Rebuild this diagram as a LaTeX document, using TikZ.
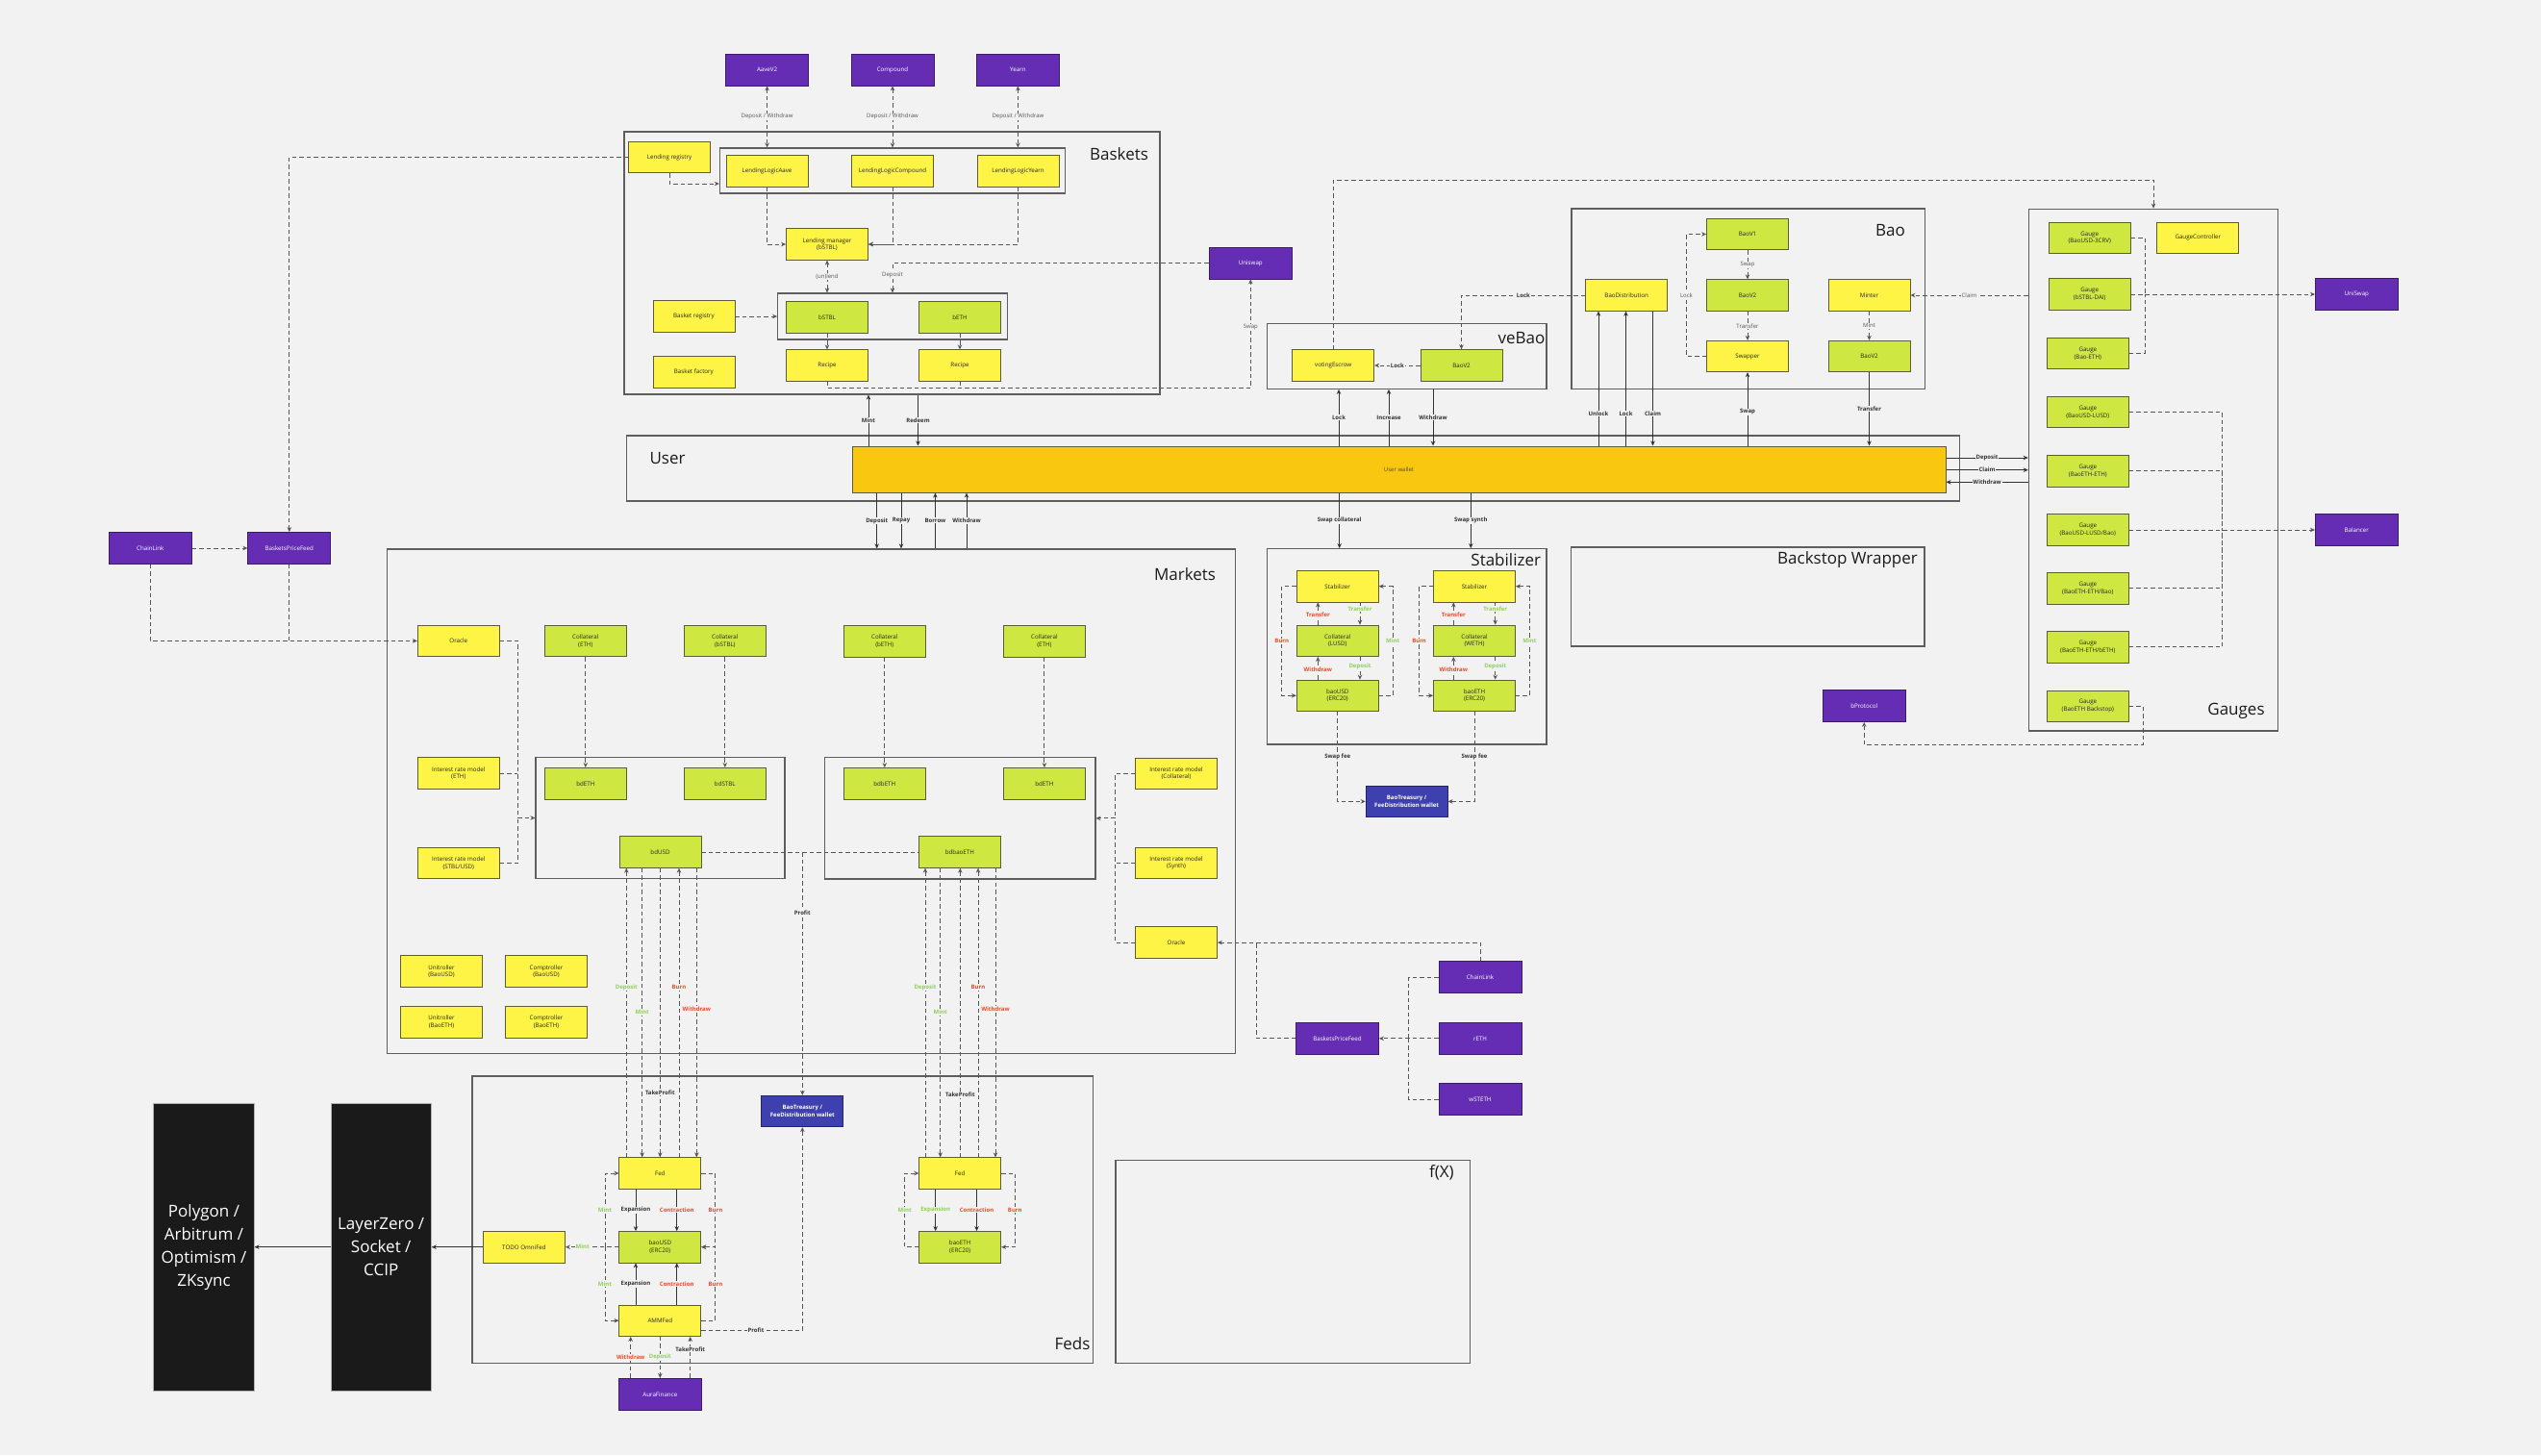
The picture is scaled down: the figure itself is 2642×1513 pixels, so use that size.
\documentclass[tikz,border=0pt]{standalone}
\usepackage{fontspec}
\setmainfont{Open Sans}
\usetikzlibrary{arrows.meta,fit,calc}
\definecolor{bgc}{HTML}{F2F2F2}
\definecolor{ylw}{HTML}{FEF445}
\definecolor{lime}{HTML}{CEE741}
\definecolor{purp}{HTML}{652DB4}
\definecolor{blu}{HTML}{3E40B0}
\definecolor{gold}{HTML}{FAC710}
\definecolor{brd}{HTML}{5C5C3D}
\definecolor{grpc}{HTML}{5E5E5E}
\definecolor{lnc}{HTML}{555555}
\definecolor{sln}{HTML}{333333}
\definecolor{grn}{HTML}{8FD14F}
\definecolor{rd}{HTML}{F24726}
\definecolor{blk}{HTML}{1A1A1A}
\tikzset{
 box/.style={draw=brd, line width=0.8pt, minimum width=85pt, minimum height=32.5pt, inner sep=1pt, align=center, font=\fontsize{6.2}{7.6}\selectfont, text=black!85},
 ybox/.style={box, fill=ylw},
 gbox/.style={box, fill=lime},
 pbox/.style={box, fill=purp, draw=purp!60!black, text=white, minimum width=86pt, minimum height=33pt},
 bbox/.style={box, fill=blu, draw=blu!60!black, text=white, font=\fontsize{6}{7.5}\selectfont\bfseries},
 blkbox/.style={fill=blk, draw=gray!60, line width=0.6pt, text=white, align=center, font=\fontsize{17}{24}\selectfont, minimum width=104.5pt, minimum height=299.5pt},
 grp/.style={draw=grpc, line width=1.2pt, inner sep=0pt},
 ttl/.style={font=\fontsize{17}{20}\selectfont, text=blk, inner sep=0pt},
 dl/.style={draw=lnc, line width=0.85pt, dash pattern=on 4.5pt off 3pt},
 sl/.style={draw=sln, line width=0.8pt},
 lbl/.style={fill=bgc, inner sep=0.8pt, font=\fontsize{6}{7}\selectfont\bfseries, text=sln},
 lbn/.style={lbl, font=\fontsize{6}{7}\selectfont, text=lnc},
 lbg/.style={lbl, text=grn},
 lbr/.style={lbl, text=rd},
 >={Stealth[length=5pt,width=4.5pt]},
}
\begin{document}
\begin{tikzpicture}[x=1pt,y=-1pt]
\fill[bgc] (0,0) rectangle (2642,1513);

% ---------------- group boxes ----------------
\node[grp, fit={(649,137)(1206,410)}] (baskG) {};
\node[grp, fit={(748.4,154)(1107.3,201)}] (lendG) {};
\node[grp, fit={(808.7,305)(1047.3,353)}] (baskiG) {};
\node[grp, fit={(1317.7,336.3)(1608,404.3)}] (vebaoG) {};
\node[grp, fit={(1634,217)(2001.4,404.3)}] (baoG) {};
\node[grp, fit={(651.8,453)(2037.6,521)}] (userG) {};
\node[grp, fit={(2109.3,217.2)(2368.7,760)}] (gaugesG) {};
\node[grp, fit={(1633.5,569)(2001,672)}] (bswG) {};
\node[grp, fit={(402.3,571)(1284.3,1095.8)}] (marketsG) {};
\node[grp, fit={(557,787.3)(816,913.7)}] (bd1G) {};
\node[grp, fit={(857.7,787.8)(1138.9,913.9)}] (bd2G) {};
\node[grp, fit={(1317.3,570.7)(1608,774)}] (stabG) {};
\node[grp, fit={(491,1119)(1136.7,1417.7)}] (fedsG) {};
\node[grp, fit={(1160,1206.7)(1528.6,1417.7)}] (fxG) {};

% titles
\node[ttl] (tBaskets) at (1163.5,160) {Baskets};
\node[ttl] (tVebao) at (1582,352) {veBao};
\node[ttl] (tBao) at (1965.5,240) {Bao};
\node[ttl] (tGauges) at (2325,739) {Gauges};
\node[ttl] (tUser) at (694,477) {User};
\node[ttl] (tMarkets) at (1232,597) {Markets};
\node[ttl] (tStab) at (1565.7,582.3) {Stabilizer};
\node[ttl] (tBsw) at (1921,582) {Backstop Wrapper};
\node[ttl] (tFeds) at (1115,1396.7) {Feds};
\node[ttl] (tFx) at (1498.8,1219) {f(X)};

% ---------------- Baskets ----------------
\node[pbox] (aave) at (797.6,72.5) {AaveV2};
\node[pbox] (compound) at (928,72.5) {Compound};
\node[pbox] (yearn) at (1058.4,72.5) {Yearn};
\node[ybox] (lendreg) at (696,163.5) {Lending registry};
\node[ybox] (llaave) at (797.5,178) {LendingLogicAave};
\node[ybox] (llcomp) at (928,178) {LendingLogicCompound};
\node[ybox] (llyearn) at (1058.5,178) {LendingLogicYearn};
\node[ybox] (lendmgr) at (860,254) {Lending manager\\(bSTBL)};
\node[gbox] (bstbl) at (860,330) {bSTBL};
\node[gbox] (beth) at (998,330) {bETH};
\node[ybox] (baskreg) at (721.4,329) {Basket registry};
\node[ybox] (baskfac) at (721.4,387) {Basket factory};
\node[ybox] (recipe1) at (860,380) {Recipe};
\node[ybox] (recipe2) at (998,380) {Recipe};
\node[pbox] (uniswap) at (1300.3,273.5) {Uniswap};

% ---------------- veBao / Bao ----------------
\node[ybox] (vesc) at (1386.2,380) {votingEscrow};
\node[gbox] (vebaov2) at (1519.5,380) {BaoV2};
\node[ybox] (baodist) at (1691.2,307) {BaoDistribution};
\node[gbox] (baov1) at (1817,243.5) {BaoV1};
\node[gbox] (baov2) at (1817,307) {BaoV2};
\node[ybox] (swapper) at (1817,370.5) {Swapper};
\node[ybox] (minter) at (1943.5,307) {Minter};
\node[gbox] (baov2m) at (1943.5,370.5) {BaoV2};

% ---------------- User ----------------
\node[draw=brd, line width=1pt, fill=gold, minimum width=1137pt, minimum height=48pt, font=\fontsize{6}{7}\selectfont, text=black!70] (wallet) at (1454.5,488) {User wallet};

% ---------------- Gauges ----------------
\node[gbox] (g1) at (2172.7,247.2) {Gauge\\(BaoUSD-3CRV)};
\node[ybox] (gc) at (2285.3,247.2) {GaugeController};
\node[gbox] (g2) at (2172.7,306) {Gauge\\(bSTBL-DAI)};
\node[gbox] (g3) at (2170.8,367.6) {Gauge\\(Bao-ETH)};
\node[gbox] (g4) at (2170.8,428.6) {Gauge\\(BaoUSD-LUSD)};
\node[gbox] (g5) at (2170.8,489.7) {Gauge\\(BaoETH-ETH)};
\node[gbox] (g6) at (2170.8,551) {Gauge\\(BaoUSD-LUSD/Bao)};
\node[gbox] (g7) at (2170.8,611.8) {Gauge\\(BaoETH-ETH/Bao)};
\node[gbox] (g8) at (2170.8,672.8) {Gauge\\(BaoETH-ETH/bETH)};
\node[gbox] (g9) at (2170.8,734.2) {Gauge\\(BaoETH Backstop)};
\node[pbox] (uniswap2) at (2450.3,306) {UniSwap};
\node[pbox] (balancer) at (2450.3,551) {Balancer};
\node[pbox] (bprotocol) at (1938.2,734) {bProtocol};

% ---------------- Markets ----------------
\node[pbox] (chainL) at (156.3,570) {ChainLink};
\node[pbox] (bpfL) at (300.8,570) {BasketsPriceFeed};
\node[ybox] (oracleL) at (476.8,666.4) {Oracle};
\node[gbox] (collETH) at (608.8,666.4) {Collateral\\(ETH)};
\node[gbox] (collbSTBL) at (753.8,666.4) {Collateral\\(bSTBL)};
\node[ybox] (irmETH) at (476.8,804) {Interest rate model\\(ETH)};
\node[ybox] (irmSTBL) at (476.8,897.5) {Interest rate model\\(STBL/USD)};
\node[gbox] (bdETH) at (608.8,814.7) {bdETH};
\node[gbox] (bdSTBL) at (753.8,814.7) {bdSTBL};
\node[gbox] (bdUSD) at (686.5,886) {bdUSD};
\node[ybox] (uniUSD) at (459,1010) {Unitroller\\(BaoUSD)};
\node[ybox] (compUSD) at (568,1010) {Comptroller\\(BaoUSD)};
\node[ybox] (uniETH) at (459,1062.8) {Unitroller\\(BaoETH)};
\node[ybox] (compETH) at (568,1062.8) {Comptroller\\(BaoETH)};
\node[gbox] (collbETH) at (919.8,666.8) {Collateral\\(bETH)};
\node[gbox] (collETH2) at (1085.9,666.8) {Collateral\\(ETH)};
\node[gbox] (bdbETH) at (919.8,814.8) {bdbETH};
\node[gbox] (bdETH2) at (1085.9,814.8) {bdETH};
\node[gbox] (bdbaoETH) at (997.9,886) {bdbaoETH};
\node[ybox] (irmColl) at (1223,804.2) {Interest rate model\\(Collateral)};
\node[ybox] (irmSynth) at (1223,897.5) {Interest rate model\\(Synth)};
\node[ybox] (oracleR) at (1223,980.1) {Oracle};
\node[pbox] (chainR) at (1539,1016) {ChainLink};
\node[pbox] (reth) at (1539,1079.8) {rETH};
\node[pbox] (wsteth) at (1539,1143) {wSTETH};
\node[pbox] (bpfR) at (1390.5,1079.8) {BasketsPriceFeed};

% ---------------- Stabilizer ----------------
\node[ybox] (stab1) at (1390.7,609.7) {Stabilizer};
\node[gbox] (collLUSD) at (1390.7,666.3) {Collateral\\(LUSD)};
\node[gbox] (baoUSDs) at (1390.7,723.3) {baoUSD\\(ERC20)};
\node[ybox] (stab2) at (1533,609.7) {Stabilizer};
\node[gbox] (collWETH) at (1533,666.3) {Collateral\\(WETH)};
\node[gbox] (baoETHs) at (1533,723.3) {baoETH\\(ERC20)};
\node[bbox] (treasS) at (1462.6,833.4) {BaoTreasury /\\FeeDistribution wallet};

% ---------------- Feds ----------------
\node[bbox] (treasF) at (834.3,1155.5) {BaoTreasury /\\FeeDistribution wallet};
\node[ybox] (fedU) at (686.3,1220) {Fed};
\node[gbox] (baoUSDf) at (686.3,1296.7) {baoUSD\\(ERC20)};
\node[ybox] (ammfed) at (686.3,1373.2) {AMMFed};
\node[ybox] (omnifed) at (545,1296.7) {TODO OmniFed};
\node[pbox] (aura) at (686.3,1449.8) {AuraFinance};
\node[ybox] (fedE) at (998.2,1220) {Fed};
\node[gbox] (baoETHf) at (998.2,1296.7) {baoETH\\(ERC20)};
\node[blkbox] (lz) at (396.2,1296.7) {LayerZero /\\Socket /\\CCIP};
\node[blkbox] (poly) at (212,1296.7) {Polygon /\\Arbitrum /\\Optimism /\\ZKsync};

% ================= connectors =================
% Baskets
\foreach \a in {aave,compound,yearn}
  \draw[dl,<->] (\a.south) -- (lendG.north -| \a.south) node[lbn,midway]{Deposit / Withdraw};
\draw[dl,->] (llaave.south) |- (lendmgr.west);
\draw[dl,->] (llcomp.south) |- (lendmgr.east);
\draw[dl,->] (llyearn.south) |- (lendmgr.east);
\draw[dl,->] (lendreg.south) |- ([yshift=-13.5pt]lendG.west);
\draw[dl,<->] (lendmgr.south) -- (baskiG.north -| lendmgr.south) node[lbn,midway]{(un)lend};
\draw[dl,->] (uniswap.west) -| (baskiG.north) node[lbn,pos=0.7]{Deposit};
\draw[dl,->] (baskreg.east) -- (baskiG.west |- baskreg.east);
\draw[dl,->] (bstbl.south) -- (recipe1.north);
\draw[dl,->] (beth.south) -- (recipe2.north);
\draw[dl,->] (recipe1.south) -- ++(0,7) -| (uniswap.south) node[lbn,pos=0.78]{Swap};
\draw[dl] (recipe2.south) -- ++(0,7);
\draw[dl,->] (lendreg.west) -| (bpfL.north);

% wallet top
\draw[sl,->] (wallet.north -| 903,0) -- (baskG.south -| 903,0) node[lbl,midway]{Mint};
\draw[sl,->] (baskG.south -| 954.5,0) -- (wallet.north -| 954.5,0) node[lbl,midway]{Redeem};
\draw[sl,->] (wallet.north -| 1392,0) -- (vebaoG.south -| 1392,0) node[lbl,midway]{Lock};
\draw[sl,->] (wallet.north -| 1444,0) -- (vebaoG.south -| 1444,0) node[lbl,midway]{Increase};
\draw[sl,->] (vebaoG.south -| 1490,0) -- (wallet.north -| 1490,0) node[lbl,midway]{Withdraw};
\draw[sl,->] (wallet.north -| 1662,0) -- (baodist.south -| 1662,0) node[lbl,pos=0.24]{Unlock};
\draw[sl,->] (wallet.north -| 1690.5,0) -- (baodist.south -| 1690.5,0) node[lbl,pos=0.24]{Lock};
\draw[sl,->] (baodist.south -| 1718.5,0) -- (wallet.north -| 1718.5,0) node[lbl,pos=0.76]{Claim};
\draw[sl,->] (wallet.north -| swapper.south) -- (swapper.south) node[lbl,pos=0.46]{Swap};
\draw[sl,->] (baov2m.south) -- (wallet.north -| baov2m.south) node[lbl,midway]{Transfer};
% wallet right
\draw[sl,->] (wallet.east |- 0,476) -- (gaugesG.west |- 0,476) node[lbl,midway]{Deposit};
\draw[sl,->] (wallet.east |- 0,488.7) -- (gaugesG.west |- 0,488.7) node[lbl,midway]{Claim};
\draw[sl,<-] (wallet.east |- 0,501.3) -- (gaugesG.west |- 0,501.3) node[lbl,midway]{Withdraw};
% wallet bottom
\draw[sl,->] (wallet.south -| 911.7,0) -- (marketsG.north -| 911.7,0) node[lbl,midway]{Deposit};
\draw[sl,->] (wallet.south -| 937,0) -- (marketsG.north -| 937,0) node[lbl,midway]{Repay};
\draw[sl,->] (marketsG.north -| 972.4,0) -- (wallet.south -| 972.4,0) node[lbl,midway]{Borrow};
\draw[sl,->] (marketsG.north -| 1005,0) -- (wallet.south -| 1005,0) node[lbl,midway]{Withdraw};
\draw[sl,->] (wallet.south -| 1392.7,0) -- (stabG.north -| 1392.7,0) node[lbl,midway]{Swap collateral};
\draw[sl,->] (wallet.south -| 1529.3,0) -- (stabG.north -| 1529.3,0) node[lbl,midway]{Swap synth};

% veBao / Bao
\draw[dl,->] (vebaov2.west) -- (vesc.east) node[lbl,midway]{Lock};
\draw[dl,->] (baodist.west) -| (vebaov2.north) node[lbl,pos=0.25]{Lock};
\coordinate (gtop) at (2239,187.3);
\draw[dl,->] (vesc.north) |- (gtop) -- (gaugesG.north);
\draw[dl,->] (baov1.south) -- (baov2.north) node[lbn,midway]{Swap};
\draw[dl,->] (baov2.south) -- (swapper.north) node[lbn,midway]{Transfer};
\draw[dl,->] (swapper.west) -- ++(-20.7,0) |- (baov1.west) node[lbn,pos=0.25]{Lock};
\draw[dl,->] (minter.south) -- (baov2m.north) node[lbn,midway]{Mint};
\draw[dl,->] (gaugesG.west |- minter.east) -- (minter.east) node[lbn,midway]{Claim};

% Gauges
\draw[dl] (g1.east) -| (2230,306);
\draw[dl] (g3.east) -| (2230,306);
\draw[dl,->] (g2.east) -- (uniswap2.west);
\foreach \g in {g4,g5,g7,g8} \draw[dl] (\g.east) -| (2310.7,551);
\draw[dl,->] (g6.east) -- (balancer.west);
\coordinate (bpc) at (1938.2,774.5);
\draw[dl,->] (g9.east) -- ++(14.5,0) |- (bpc) -- (bprotocol.south);

% Markets left
\draw[dl,->] (chainL.east) -- (bpfL.west);
\draw[dl,->] (chainL.south) |- (oracleL.west);
\draw[dl] (bpfL.south) -- (bpfL.south |- oracleL.west);
\coordinate (t1) at (538.3,850.5);
\draw[dl] (oracleL.east) -| (t1);
\draw[dl] (irmSTBL.east) -| (t1);
\draw[dl] (irmETH.east) -- (irmETH.east -| t1);
\draw[dl,->] (t1) -- (bd1G.west);
\draw[dl,->] (collETH.south) -- (bdETH.north);
\draw[dl,->] (collbSTBL.south) -- (bdSTBL.north);
\draw[dl,->] (collbETH.south) -- (bdbETH.north);
\draw[dl,->] (collETH2.south) -- (bdETH2.north);
% Markets right
\coordinate (t2) at (1159.5,850.85);
\draw[dl] (irmColl.west) -| (t2);
\draw[dl] (oracleR.west) -| (t2);
\draw[dl] (irmSynth.west) -- (irmSynth.west -| t2);
\draw[dl,->] (t2) -- (bd2G.east);
\draw[dl,->] (chainR.north) |- (oracleR.east);
\draw[dl] (bpfR.west) -| (1306.3,980.1);
\coordinate (t3) at (1464.6,1079.8);
\draw[dl] (chainR.west) -| (t3);
\draw[dl] (wsteth.west) -| (t3);
\draw[dl,->] (reth.west) -- (bpfR.east);
% profit
\draw[dl] (bdUSD.east) -- (bdbaoETH.west);
\draw[dl,->] (bdUSD.east -| treasF.north) -- (treasF.north) node[lbl,pos=0.25]{Profit};
% bdUSD <-> Fed
\draw[dl,->] (fedU.north -| 651.3,0) -- (bdUSD.south -| 651.3,0) node[lbg,pos=0.588]{Deposit};
\draw[dl,->] (bdUSD.south -| 667.7,0) -- (fedU.north -| 667.7,0) node[lbg,pos=0.498]{Mint};
\draw[dl,->] (bdUSD.south -| 686.3,0) -- (fedU.north -| 686.3,0) node[lbl,pos=0.776]{TakeProfit};
\draw[dl,->] (fedU.north -| 706,0) -- (bdUSD.south -| 706,0) node[lbr,pos=0.588]{Burn};
\draw[dl,->] (bdUSD.south -| 724.3,0) -- (fedU.north -| 724.3,0) node[lbr,pos=0.488]{Withdraw};
% bdbaoETH <-> Fed
\draw[dl,->] (fedE.north -| 962,0) -- (bdbaoETH.south -| 962,0) node[lbg,pos=0.588]{Deposit};
\draw[dl,->] (bdbaoETH.south -| 977.7,0) -- (fedE.north -| 977.7,0) node[lbg,pos=0.498]{Mint};
\draw[dl,->] (fedE.north -| 998.3,0) -- (bdbaoETH.south -| 998.3,0) node[lbl,pos=0.216]{TakeProfit};
\draw[dl,->] (fedE.north -| 1017,0) -- (bdbaoETH.south -| 1017,0) node[lbr,pos=0.588]{Burn};
\draw[dl,->] (bdbaoETH.south -| 1035,0) -- (fedE.north -| 1035,0) node[lbr,pos=0.488]{Withdraw};

% Stabilizer
\draw[dl,->] (collLUSD.north -| 1370.3,0) -- (stab1.south -| 1370.3,0) node[lbr,pos=0.45]{Transfer};
\draw[dl,->] (stab1.south -| 1414,0) -- (collLUSD.north -| 1414,0) node[lbg,pos=0.3]{Transfer};
\draw[dl,->] (baoUSDs.north -| 1370.3,0) -- (collLUSD.south -| 1370.3,0) node[lbr,pos=0.45]{Withdraw};
\draw[dl,->] (collLUSD.south -| 1414,0) -- (baoUSDs.north -| 1414,0) node[lbg,pos=0.4]{Deposit};
\draw[dl,->] (stab1.west) -- ++(-15,0) |- (baoUSDs.west) node[lbr,pos=0.25]{Burn};
\draw[dl,->] (baoUSDs.east) -- ++(14.5,0) |- (stab1.east) node[lbg,pos=0.25]{Mint};
\draw[dl,->] (collWETH.north -| 1511.3,0) -- (stab2.south -| 1511.3,0) node[lbr,pos=0.45]{Transfer};
\draw[dl,->] (stab2.south -| 1554.7,0) -- (collWETH.north -| 1554.7,0) node[lbg,pos=0.3]{Transfer};
\draw[dl,->] (baoETHs.north -| 1511.3,0) -- (collWETH.south -| 1511.3,0) node[lbr,pos=0.45]{Withdraw};
\draw[dl,->] (collWETH.south -| 1554.7,0) -- (baoETHs.north -| 1554.7,0) node[lbg,pos=0.4]{Deposit};
\draw[dl,->] (stab2.west) -- ++(-14.5,0) |- (baoETHs.west) node[lbr,pos=0.25]{Burn};
\draw[dl,->] (baoETHs.east) -- ++(14.5,0) |- (stab2.east) node[lbg,pos=0.25]{Mint};
\draw[dl,->] (baoUSDs.south) |- (treasS.west) node[lbl,pos=0.25]{Swap fee};
\draw[dl,->] (baoETHs.south) |- (treasS.east) node[lbl,pos=0.25]{Swap fee};

% Feds (USD)
\draw[sl,->] (fedU.south -| 661,0) -- (baoUSDf.north -| 661,0) node[lbl,midway]{Expansion};
\draw[sl,->] (fedU.south -| 703.7,0) -- (baoUSDf.north -| 703.7,0) node[lbr,midway]{Contraction};
\draw[sl,->] (ammfed.north -| 661,0) -- (baoUSDf.south -| 661,0) node[lbl,midway]{Expansion};
\draw[sl,->] (ammfed.north -| 703.7,0) -- (baoUSDf.south -| 703.7,0) node[lbr,midway]{Contraction};
\draw[dl,->] (baoUSDf.west) -- (omnifed.east) node[lbg,pos=0.68]{Mint};
\coordinate (m1) at (629,1296.7);
\draw[dl,->] (m1) |- (fedU.west) node[lbg,pos=0.25]{Mint};
\draw[dl,->] (m1) |- (ammfed.west) node[lbg,pos=0.25]{Mint};
\draw[dl,->] (fedU.east) -- ++(14.7,0) |- (baoUSDf.east) node[lbr,pos=0.25]{Burn};
\draw[dl,->] (ammfed.east) -- ++(14.7,0) |- (baoUSDf.east) node[lbr,pos=0.25]{Burn};
\draw[dl,->] ([yshift=-10pt]ammfed.east) -| (treasF.south) node[lbl,pos=0.27]{Profit};
\draw[dl,->] (aura.north -| 655.7,0) -- (ammfed.south -| 655.7,0) node[lbr,midway]{Withdraw};
\draw[dl,->] (ammfed.south -| aura.north) -- (aura.north) node[lbg,midway]{Deposit};
\draw[dl,->] (aura.north -| 717.7,0) -- (ammfed.south -| 717.7,0) node[lbl,pos=0.69]{TakeProfit};
\draw[sl,->] (omnifed.west) -- (lz.east |- omnifed.west);
\draw[sl,->] (lz.west) -- (poly.east);
% Feds (ETH)
\draw[sl,->] (fedE.south -| 972.7,0) -- (baoETHf.north -| 972.7,0) node[lbg,midway]{Expansion};
\draw[sl,->] (fedE.south -| 1015.5,0) -- (baoETHf.north -| 1015.5,0) node[lbr,midway]{Contraction};
\draw[dl,->] (baoETHf.west) -- ++(-14.7,0) |- (fedE.west) node[lbg,pos=0.25]{Mint};
\draw[dl,->] (fedE.east) -- ++(14.2,0) |- (baoETHf.east) node[lbr,pos=0.25]{Burn};
\end{tikzpicture}
\end{document}
